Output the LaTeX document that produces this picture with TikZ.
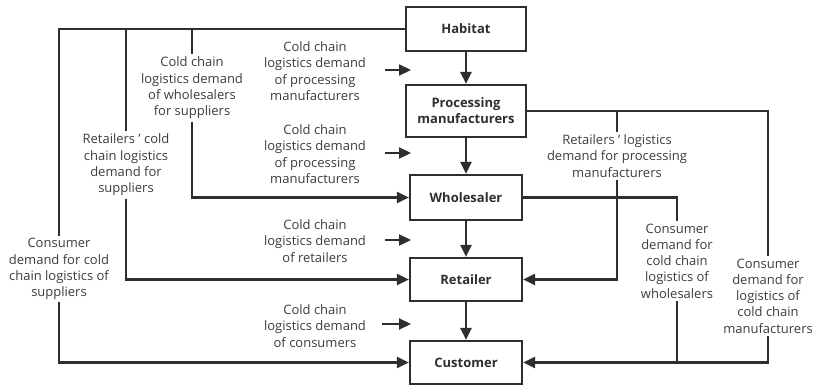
\documentclass[tikz,border=0pt]{standalone}
\usepackage{fontspec}
\setmainfont{Open Sans}
\usetikzlibrary{arrows.meta}
\definecolor{ink}{HTML}{2E2E2E}
\definecolor{txt}{HTML}{3C3C3C}
\begin{document}
\begin{tikzpicture}[x=1pt,y=-1pt,
  box/.style={draw=ink,line width=2.2pt,font=\bfseries\fontsize{13}{16}\selectfont,text=ink,align=center,inner sep=0pt},
  lab/.style={font=\fontsize{13}{16.3}\selectfont,text=txt,align=center,inner sep=2.5pt},
  conn/.style={draw=ink,line width=2.2pt},
  arr/.style={conn,-{Triangle[length=12pt,width=11pt]}}]
\useasboundingbox (0,0) rectangle (816,386);
% boxes
\node[box,minimum width=120pt,minimum height=44pt] (hab) at (466,29) {Habitat};
\node[box,minimum width=120pt,minimum height=52pt] (proc) at (466,111) {Processing\\manufacturers};
\node[box,minimum width=112pt,minimum height=45pt] (wh) at (466,197.5) {Wholesaler};
\node[box,minimum width=112pt,minimum height=43pt] (ret) at (466,279.5) {Retailer};
\node[box,minimum width=112pt,minimum height=43pt] (cust) at (466,362.5) {Customer};
% vertical chain arrows
\draw[arr] (hab) -- (proc);
\draw[arr] (proc) -- (wh);
\draw[arr] (wh) -- (ret);
\draw[arr] (ret) -- (cust);
% middle labels with short arrows
\node[lab] (ma) at (315,71) {Cold chain\\logistics demand\\of processing\\manufacturers};
\node[lab] (mb) at (315,154) {Cold chain\\logistics demand\\of processing\\manufacturers};
\node[lab] (mc) at (315,241) {Cold chain\\logistics demand\\of retailers};
\node[lab] (md) at (315,326) {Cold chain\\logistics demand\\of consumers};
\coordinate (ma1) at (385,70); \coordinate (ma2) at (411,70);
\coordinate (mb1) at (385,153); \coordinate (mb2) at (411,153);
\coordinate (mc1) at (385,240); \coordinate (mc2) at (411,240);
\coordinate (md1) at (382,324); \coordinate (md2) at (411,324);
\draw[arr] (ma1) -- (ma2);
\draw[arr] (mb1) -- (mb2);
\draw[arr] (mc1) -- (mc2);
\draw[arr] (md1) -- (md2);
% left side
\node[lab] (ls) at (59,269) {Consumer\\demand for cold\\chain logistics of\\suppliers};
\node[lab] (lr) at (126,165) {Retailers ' cold\\chain logistics\\demand for\\suppliers};
\node[lab] (lw) at (192,88) {Cold chain\\logistics demand\\of wholesalers\\for suppliers};
\coordinate (jr) at (126,29);
\coordinate (jw) at (192,29);
\draw[conn] (hab.west) -| (ls.north);
\draw[arr] (ls.south) |- (cust.west);
\draw[conn] (jr) -- (lr.north);
\draw[arr] (lr.south) |- (ret.west);
\draw[conn] (jw) -- (lw.north);
\draw[arr] (lw.south) |- (wh.west);
% right side
\node[lab] (rm) at (768,296) {Consumer\\demand for\\logistics of\\cold chain\\manufacturers};
\node[lab] (rp) at (617,156) {Retailers ' logistics\\demand for processing\\manufacturers};
\node[lab] (rw) at (677,261) {Consumer\\demand for\\cold chain\\logistics of\\wholesalers};
\coordinate (jp) at (617,111);
\draw[conn] (proc.east) -| (rm.north);
\draw[arr] (rm.south) |- (cust.east);
\draw[conn] (jp) -- (rp.north);
\draw[arr] (rp.south) |- (ret.east);
\draw[conn] (wh.east) -| (rw.north);
\draw[conn] (rw.south) -- (rw.south |- cust.east);
\end{tikzpicture}
\end{document}
